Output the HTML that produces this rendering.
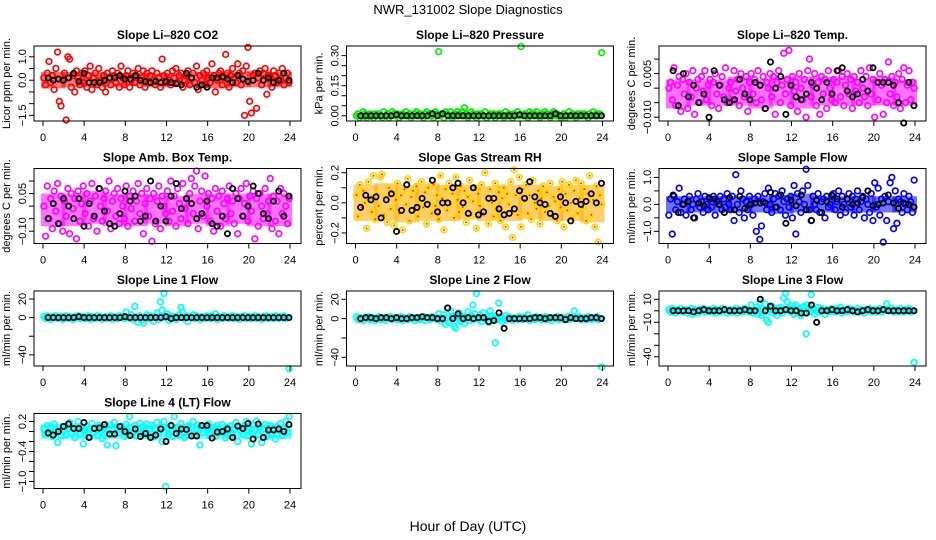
<!DOCTYPE html>
<html><head><meta charset="utf-8"><style>
html,body{margin:0;padding:0;background:#fff}
svg{display:block;font-family:"Liberation Sans",sans-serif}
</style></head><body>
<svg id="chart" width="936" height="540" viewBox="0 0 936 540" xmlns="http://www.w3.org/2000/svg">
<text x="468" y="14" text-anchor="middle" font-size="13">NWR_131002  Slope Diagnostics</text>
<text x="468" y="531" text-anchor="middle" font-size="14">Hour of Day (UTC)</text>
</svg>
<script>
const xTicks=[0,4,8,12,16,20,24];

const co2Vals=[0.1,-0.2,0.3,0.8,-0.1,0.2,-0.4,0.5,1.2,-0.9,-1.1,0.0,0.3,-1.7,1.0,0.9,-0.3,0.2,-0.5,0.4,0.1,-0.2,0.3,-0.1,0.4,-0.3,0.2,0.6,-0.4,0.1,0.3,-0.2,0.5,0.0,-0.3,0.2,-0.5,0.3,0.1,-0.2,0.4,0.2,-0.1,0.3,-0.3,0.6,0.1,-0.2,0.2,0.4,-0.3,0.0,0.3,-0.1,0.2,0.5,-0.2,0.1,0.4,-0.3,0.3,-0.1,0.2,0.4,0.0,-0.2,0.3,0.1,-0.3,0.9,0.2,-0.1,0.3,0.0,-0.2,0.4,0.1,0.5,-0.1,0.2,0.3,-0.3,0.0,0.2,0.4,-0.2,0.1,0.3,-0.1,0.6,-0.4,0.2,0.0,0.3,-0.2,0.4,0.1,-0.1,0.7,0.2,-0.5,0.0,0.3,0.4,-0.2,0.1,1.1,0.3,-0.3,0.2,0.5,0.1,-0.1,0.7,0.3,-0.2,0.4,-1.5,0.6,1.4,-0.9,-1.4,0.2,0.3,-1.2,0.1,0.4,-0.2,0.3,0.5,-0.6,0.2,0.1,-0.3,0.4,0.2,-0.1,0.3,0.0,0.5,-0.2,0.1,0.3,-0.1];
const co2Means=[0.1,0.0,0.05,0.0,0.1,0.3,-0.05,0.3,-0.1,-0.1,-0.1,0.0,0.1,0.1,0.2,0.05,0.05,0.2,0.0,-0.05,-0.1,-0.05,-0.1,-0.05,-0.1,-0.15,-0.2,0.3,0.1,-0.3,-0.2,-0.3,0.1,0.1,0.15,0.05,-0.1,0.2,0.05,-0.05,0.0,0.3,0.0,0.1,-0.1,0.0,0.3,0.0];
const co2BandLo=[-0.35,-0.3,-0.3,-0.3,-0.25,-0.3,-0.25,-0.3,-0.35,-0.3,-0.3,-0.3];
const co2BandHi=[0.35,0.35,0.35,0.3,0.3,0.3,0.3,0.35,0.35,0.35,0.4,0.35];
const co2Ticks=[-1.5,-1.0,-0.5,0.0,0.5,1.0];
const co2Labels=["-1.5","","","0.0","","1.0"];

const presVals=[0.00,0.01,-0.01,0.00,0.02,0.01,-0.01,0.00,0.01,0.00,-0.01,0.01,0.00,0.01,0.00,-0.01,0.02,0.00,0.01,-0.01,0.00,0.02,0.01,0.00,0.01,-0.01,0.00,0.01,0.00,0.02,0.00,0.01,-0.01,0.00,0.01,0.02,0.00,0.01,0.00,-0.01,0.01,0.02,0.00,0.01,0.00,-0.01,0.02,0.01,0.32,0.00,0.01,-0.01,0.02,0.01,0.00,0.02,-0.01,0.01,0.00,0.02,0.01,0.00,0.02,0.04,0.01,-0.01,0.00,0.02,0.01,0.00,-0.01,0.01,0.00,0.01,0.00,0.02,-0.01,0.00,0.01,0.00,0.01,-0.01,0.00,0.01,0.01,0.00,-0.01,0.02,0.00,0.01,0.00,-0.01,0.01,0.00,0.02,0.00,0.345,0.00,0.01,0.00,-0.01,0.02,0.01,0.00,0.01,0.02,0.00,-0.01,0.01,0.00,0.02,0.01,0.00,-0.01,0.01,0.02,0.00,0.01,0.00,-0.01,0.00,0.01,-0.01,0.00,0.02,0.00,0.01,0.00,-0.01,0.01,0.00,0.01,0.00,0.01,0.00,-0.01,0.01,0.00,0.02,0.00,0.01,0.00,0.01,0.315];
const presMeans=[0,0,0,0,0,0,0,0.005,0,0,0,0,0,0,0.01,0,0.01,0,0,0,0,0,0,0,0,0,0,0,0,0,0,0.005,0,0,0,0,0,0,0.01,0,0,0,0,0,0,0,0,0];
const presBandLo=[-0.008,-0.008,-0.008,-0.008,-0.008,-0.008,-0.008,-0.008,-0.008,-0.008,-0.008,-0.008];
const presBandHi=[0.012,0.012,0.012,0.012,0.015,0.012,0.012,0.012,0.012,0.012,0.012,0.012];
const presTicks=[0,0.05,0.10,0.15,0.20,0.25,0.30];
const presLabels=["0.00","","","0.15","","","0.30"];

const ltVals=[0.0,0.002,-0.004,0.007,-0.006,0.001,0.004,-0.008,0.003,-0.002,0.005,-0.007,0.002,-0.003,0.006,-0.009,0.0,0.003,-0.005,0.004,-0.001,0.006,-0.004,0.001,0.003,-0.006,0.002,0.005,-0.002,-0.007,0.001,0.004,-0.003,0.007,-0.005,0.0,0.002,-0.004,0.006,-0.001,0.003,-0.006,0.005,0.0,-0.003,0.004,-0.008,0.002,0.005,-0.002,0.003,-0.005,0.006,0.001,-0.004,0.004,-0.007,0.002,0.0,0.005,-0.003,0.004,-0.009,0.002,0.006,-0.005,0.001,0.012,-0.002,0.003,0.013,-0.006,0.004,-0.001,0.002,-0.008,0.005,0.0,-0.004,0.003,-0.01,0.006,0.010,-0.003,0.001,0.005,-0.006,0.002,-0.009,0.004,-0.002,0.003,-0.007,0.006,0.0,-0.004,0.003,-0.005,0.002,0.006,-0.003,0.004,-0.006,0.001,0.005,-0.002,0.003,-0.007,0.004,-0.001,0.002,-0.005,0.006,0.0,-0.003,0.004,-0.006,0.007,-0.002,0.003,-0.010,0.002,-0.004,0.005,0.001,-0.009,0.003,-0.005,0.009,-0.002,0.004,-0.006,0.002,-0.003,0.005,-0.007,0.003,0.007,-0.005,0.001,0.006,-0.004,0.002,0.0];
const ltMeans=[0.006,-0.006,0.005,-0.003,0.001,-0.005,-0.002,-0.01,0.006,0.001,-0.004,-0.005,-0.004,0.003,-0.002,-0.004,0.002,0.001,-0.007,0.009,0.0,0.004,-0.009,0.001,-0.003,-0.004,-0.002,0.002,0.0,-0.004,0.002,-0.002,0.006,0.007,-0.001,-0.003,-0.002,0.003,-0.001,0.007,0.002,0.002,0.002,0.001,-0.005,-0.012,0.002,-0.006];
const ltBandLo=[-0.007,-0.006,-0.006,-0.006,-0.007,-0.006,-0.007,-0.006,-0.006,-0.006,-0.006,-0.006];
const ltBandHi=[0.003,0.003,0.003,0.004,0.003,0.004,0.004,0.004,0.004,0.003,0.004,0.003];
const ltTicks=[-0.010,-0.005,0,0.005,0.010];
const ltLabels=["-0.010","","","0.005",""];

const ambVals=[0.0,-0.12,0.08,-0.05,0.03,-0.09,0.06,-0.02,0.09,-0.07,0.04,-0.10,0.02,-0.04,0.07,-0.11,0.05,-0.01,0.03,-0.13,0.06,-0.06,0.01,0.08,-0.03,0.05,-0.08,0.02,0.09,-0.05,0.04,-0.10,0.07,0.0,-0.06,0.03,0.06,-0.02,0.1,-0.09,0.02,0.05,-0.04,0.07,-0.07,0.03,0.0,-0.05,0.08,-0.08,0.04,-0.01,0.06,-0.06,0.02,0.09,-0.03,0.05,-0.11,0.01,0.07,-0.04,0.03,-0.14,0.05,-0.07,0.02,0.08,-0.09,0.04,0.0,-0.03,0.06,-0.06,0.1,-0.02,0.04,-0.08,0.07,0.01,-0.05,0.09,-0.01,0.03,-0.07,0.05,0.11,-0.03,0.08,0.14,-0.09,0.02,0.06,-0.04,0.12,0.0,0.05,-0.06,0.03,-0.10,0.07,-0.02,0.04,-0.08,0.06,0.01,-0.05,0.03,0.08,-0.03,0.02,-0.07,0.05,-0.11,0.03,0.07,-0.04,0.01,0.09,-0.06,0.04,-0.02,0.06,-0.13,0.03,-0.08,0.05,0.0,-0.05,0.07,-0.03,0.02,0.11,-0.09,0.04,-0.06,0.02,-0.11,0.07,-0.03,0.05,0.0,-0.07,0.03];
const ambMeans=[-0.05,0.01,-0.07,0.03,0.0,-0.05,0.03,-0.08,0.01,-0.04,0.07,-0.02,-0.07,-0.08,-0.03,0.06,0.02,0.04,-0.06,-0.04,0.10,-0.06,0.0,-0.06,0.04,0.09,-0.01,0.03,0.01,-0.05,-0.03,0.02,-0.07,-0.08,-0.04,-0.11,0.07,0.03,-0.04,0.0,0.08,0.05,-0.03,-0.05,0.02,0.06,-0.04,0.04];
const ambBandLo=[-0.08,-0.08,-0.07,-0.08,-0.08,-0.07,-0.08,-0.07,-0.08,-0.07,-0.08,-0.08];
const ambBandHi=[0.05,0.05,0.06,0.05,0.05,0.05,0.04,0.05,0.05,0.05,0.05,0.05];
const ambTicks=[-0.10,-0.05,0,0.05,0.10];
const ambLabels=["-0.10","","","0.05",""];

const rhVals=[0.05,-0.09,0.12,-0.03,0.08,0.0,-0.17,0.14,0.03,-0.06,0.18,-0.11,0.06,-0.02,0.17,0.19,-0.08,0.04,-0.13,0.10,-0.04,0.07,-0.15,0.02,0.13,-0.07,0.05,-0.18,0.09,-0.01,0.16,-0.12,0.04,0.08,-0.05,0.11,-0.09,0.02,0.14,-0.03,0.07,-0.14,0.10,0.0,-0.07,0.12,-0.02,0.05,-0.11,0.18,0.03,-0.18,0.09,-0.05,0.13,-0.01,0.06,-0.10,0.17,0.02,-0.06,0.11,-0.03,0.08,-0.13,0.04,0.15,-0.08,0.01,0.10,-0.17,0.06,-0.02,0.12,-0.07,0.20,0.04,-0.14,0.09,0.0,-0.09,0.13,-0.04,0.07,-0.12,0.03,0.10,-0.16,0.06,-0.01,0.14,-0.23,0.22,0.05,-0.08,0.17,-0.16,0.09,0.02,0.12,-0.07,0.05,-0.11,0.15,0.0,-0.04,0.08,-0.14,0.03,0.11,-0.06,0.07,-0.02,0.13,-0.09,0.04,0.01,-0.12,0.09,-0.03,0.14,-0.16,0.06,-0.05,0.12,0.0,-0.10,0.08,0.15,-0.07,0.03,0.13,-0.03,0.09,-0.12,0.06,0.18,-0.08,0.02,-0.16,0.11,-0.26,0.05,-0.01];
const rhMeans=[-0.03,0.05,0.02,0.04,-0.10,0.02,0.06,-0.19,-0.05,0.12,-0.05,-0.03,0.03,-0.01,0.15,-0.06,0.0,0.0,0.10,0.13,0.0,-0.07,0.10,-0.08,-0.06,0.03,0.03,-0.04,-0.08,-0.07,-0.04,0.08,0.03,0.14,0.04,0.0,-0.01,-0.07,-0.09,0.04,0.0,-0.12,0.01,-0.01,0.01,0.06,0.0,0.13];
const rhBandLo=[-0.12,-0.12,-0.13,-0.12,-0.12,-0.11,-0.12,-0.12,-0.11,-0.12,-0.12,-0.13];
const rhBandHi=[0.12,0.13,0.12,0.13,0.12,0.12,0.11,0.12,0.12,0.11,0.12,0.12];
const rhTicks=[-0.2,-0.1,0,0.1,0.2];
const rhLabels=["-0.2","","0.0","","0.2"];

const sfVals=[-0.4,0.2,-1.1,0.3,-0.2,0.1,0.6,-0.3,0.0,0.2,-0.4,0.1,0.3,-0.2,0.0,-0.5,0.2,0.4,-0.1,0.1,-0.3,0.3,0.0,-0.2,0.2,-0.1,0.3,-0.4,0.1,0.0,0.3,-0.2,0.2,-0.1,0.4,0.0,-0.2,0.3,-0.6,1.1,0.0,-0.3,0.5,0.2,-0.5,0.1,-0.2,0.3,0.0,-0.4,0.2,-1.0,0.3,-1.3,-0.8,0.1,0.4,-0.2,0.6,0.0,-0.3,0.2,0.4,-0.1,0.3,-0.2,0.5,0.1,-0.4,0.2,-0.1,0.3,-0.5,0.7,-1.1,0.4,0.1,-0.3,0.5,0.0,1.3,0.7,-0.2,-0.6,0.3,0.0,-0.2,0.4,-0.3,0.1,0.2,-0.5,0.3,-0.1,0.0,0.3,0.4,-0.2,0.1,0.5,-0.4,0.3,0.0,-0.3,0.2,0.4,-0.1,0.3,-0.4,0.2,0.5,-0.2,0.1,0.3,-0.5,0.2,0.0,-0.3,0.4,-0.6,0.8,-0.1,0.6,-0.4,0.2,-1.4,0.3,-0.6,0.1,0.8,1.0,-0.9,0.5,-0.7,0.2,0.1,-0.3,0.4,0.0,-0.2,0.3,0.1,-0.3,0.9];
const sfMeans=[0.35,-0.3,0.0,0.1,-0.5,0.05,-0.05,0.25,0.2,0.0,-0.3,0.25,-0.2,0.3,-0.15,0.0,0.05,0.05,0.05,0.45,-0.1,0.35,-0.7,0.15,-0.05,0.35,-0.2,-0.6,0.15,-0.3,0.1,0.35,0.2,-0.1,0.2,0.0,0.05,0.25,0.5,-0.05,0.0,0.05,0.35,0.05,-0.15,0.05,0.0,-0.1];
const sfBandLo=[-0.3,-0.3,-0.3,-0.3,-0.3,-0.35,-0.3,-0.3,-0.3,-0.3,-0.3,-0.3];
const sfBandHi=[0.3,0.3,0.3,0.3,0.3,0.35,0.4,0.3,0.3,0.3,0.3,0.3];
const sfTicks=[-1.0,-0.5,0,0.5,1.0];
const sfLabels=["-1.0","","0.0","","1.0"];

const l1Vals=[1,-1,2,0,-2,1,0,2,-1,0,1,-2,0,2,-1,1,0,-2,1,0,2,-1,0,1,-1,0,2,-2,1,0,-1,2,0,1,-2,0,1,-1,0,2,-2,1,0,-1,2,0,1,-1,6,0,-1,3,-2,12,1,-5,2,-3,-6,0,3,-1,2,0,-4,1,5,-2,17,8,26,0,4,-3,2,0,1,-2,0,3,11,6,-1,2,-4,1,0,3,-1,2,0,-2,1,0,-1,2,0,-1,2,0,4,-2,1,0,-1,2,0,1,-1,0,2,-1,1,0,-2,1,0,2,-1,0,1,-1,0,2,-1,1,0,-2,1,0,2,-1,0,1,-1,2,0,-1,1,0,2,-1,0,-55];
const l1Means=[0,0,0,0,0,0,1,0,0,0,0,0,0,0,0,1,0,0,0,0,0,0,0,1,-1,0,0,0,0,0,0,0,0,0,0,0,0,0,0,0,0,0,0,0,0,0,0,0];
const l1BandLo=[-2,-2,-2,-2,-3,-3,-3,-2,-2,-2,-2,-2];
const l1BandHi=[2,2,2,2,4,5,4,2,2,2,2,2];
const l1Ticks=[-40,-20,0,20];
const l1Labels=["-40","","0","20"];

const l2Vals=[2,-1,1,0,-2,1,0,2,-1,0,1,-2,0,2,-1,1,0,-2,1,0,2,-1,0,1,-1,0,2,-2,1,0,-1,2,0,1,-2,0,1,-1,0,2,-2,1,0,-1,2,0,1,-1,5,-2,0,4,-6,11,-4,8,2,-8,-10,3,6,-3,2,-5,1,7,-2,3,14,5,26,0,4,-3,6,0,2,-4,8,3,0,-25,-1,16,2,-3,0,3,-1,2,0,-2,1,0,-1,2,0,-1,2,0,4,-2,1,0,-1,2,0,1,-1,0,2,-1,1,0,-2,1,0,2,-1,0,1,-1,0,2,-1,1,0,8,1,0,2,-1,0,1,-1,2,0,-1,1,0,2,-1,0,-50];
const l2Means=[0,1,1,0,1,1,0,1,0,0,1,1,2,1,1,0,0,11,0,5,0,1,0,1,1,-3,-2,6,-10,0,0,0,0,0,1,1,0,1,1,1,-1,1,0,0,0,1,1,0];
const l2BandLo=[-2,-2,-2,-2,-5,-5,-4,-2,-2,-2,-2,-2];
const l2BandHi=[2,2,2,2,5,5,5,2,2,2,2,2];
const l2Ticks=[-40,-20,0,20];
const l2Labels=["-40","","0","20"];

const l3Vals=[1,-1,2,0,-2,1,0,2,-1,0,1,-2,0,2,-3,1,0,-2,1,0,2,-1,0,1,-1,0,2,-2,1,0,-1,2,0,1,-2,0,1,-1,0,2,-2,1,0,-1,2,0,1,-1,5,-2,0,3,-3,7,-4,2,6,-8,-10,3,4,-2,2,-4,1,3,-2,11,15,8,2,0,4,-3,5,0,2,-4,3,4,-20,5,-1,14,2,-3,0,3,-1,2,0,-3,1,0,-1,2,0,-1,2,0,3,-2,1,0,-1,2,0,1,-1,0,2,-1,1,0,-2,1,0,2,-1,0,1,-1,0,2,-1,1,0,6,1,0,2,-1,0,1,-1,2,0,-1,1,0,2,-1,0,-45];
const l3Means=[0,0,0,0,-1,0,1,0,0,0,1,0,0,0,1,0,0,10,0,4,0,0,1,0,0,-2,-2,5,-10,0,0,1,0,0,1,0,-1,0,1,0,0,1,0,0,0,0,0,0];
const l3BandLo=[-2,-2,-2,-2,-4,-4,-4,-2,-2,-2,-2,-2];
const l3BandHi=[2,2,2,2,4,5,5,2,2,2,2,2];
const l3Ticks=[-40,-30,-20,-10,0,10];
const l3Labels=["-40","","","-10","","10"];

const l4Vals=[0.05,-0.05,0.12,-0.02,0.08,-0.1,0.15,0.0,-0.22,0.06,-0.08,0.1,0.02,-0.06,0.14,0.18,-0.03,0.07,-0.12,0.05,0.2,-0.05,0.09,-0.25,0.03,0.11,-0.1,0.06,0.16,-0.04,0.08,-0.08,0.12,0.0,-0.14,0.05,0.1,-0.27,0.04,0.13,-0.06,0.18,-0.28,0.07,-0.02,0.11,0.04,-0.1,0.14,-0.06,0.3,0.08,-0.03,0.12,-0.09,0.05,0.17,-0.05,0.1,0.0,0.15,-0.08,0.06,0.12,-0.11,0.04,0.18,-0.04,0.09,-0.2,0.2,-1.1,0.07,-0.05,0.13,-0.1,0.3,0.04,0.09,-0.07,0.16,0.0,-0.12,0.06,0.11,-0.04,0.08,0.2,-0.08,0.05,0.13,-0.27,0.07,-0.02,0.1,0.05,0.15,-0.06,0.09,0.03,-0.1,0.12,0.06,-0.03,0.14,0.0,-0.13,0.08,0.04,0.11,-0.07,0.06,0.18,-0.2,0.09,0.01,-0.05,0.12,0.2,-0.08,0.07,-0.25,0.13,0.03,0.21,-0.06,0.1,-0.22,0.05,0.14,-0.1,0.08,0.12,-0.04,0.06,-0.15,0.1,0.03,0.16,-0.08,0.05,0.2,-0.02,0.3];
const l4Means=[-0.03,-0.07,0.0,0.1,0.15,0.06,0.06,0.18,-0.12,0.06,0.07,0.14,-0.05,-0.05,0.1,0.0,-0.08,0.05,-0.1,-0.04,-0.12,-0.07,0.05,-0.2,0.12,-0.04,0.05,0.04,-0.09,-0.09,0.12,0.12,-0.13,-0.01,0.0,0.05,-0.12,0.11,0.06,0.16,-0.15,0.15,-0.12,0.03,0.03,0.05,0.0,0.14];
const l4BandLo=[-0.15,-0.15,-0.16,-0.15,-0.15,-0.15,-0.16,-0.15,-0.15,-0.15,-0.16,-0.15];
const l4BandHi=[0.15,0.16,0.15,0.15,0.16,0.15,0.15,0.15,0.16,0.15,0.16,0.15];
const l4Ticks=[-1.0,-0.8,-0.6,-0.4,-0.2,0,0.2];
const l4Labels=["-1.0","","","-0.4","","","0.2"];

const NS="http://www.w3.org/2000/svg";
const svg=document.getElementById('chart');
const colLeft=[34,346.5,659], rowTop=[46,168.5,291,413.5], BW=267, BH=75;
function mk(tag,attrs,parent){const e=document.createElementNS(NS,tag);for(const k in attrs)e.setAttribute(k,attrs[k]);parent.appendChild(e);return e;}

function panel(key,col,row,title,ylab,ymin,ymax,ticks,labels,vals,means,bandLo,bandHi,color,bandColor){
  const L=colLeft[col],T=rowTop[row];
  const g=mk('g',{},svg);
  
  
  const xs=h=>L+9+h*(247/24);
  const ys=v=>T+BH-(v-ymin)/(ymax-ymin)*BH;
  const t=mk('text',{x:L+BW/2,y:T-7,'text-anchor':'middle','font-size':'12','font-weight':'bold'},g);
  t.textContent=title;
  
  
  const yl=mk('text',{transform:`translate(${L-24},${T+BH/2}) rotate(-90)`,'text-anchor':'middle','font-size':'11'},g);
  yl.textContent=ylab;
  
  
  const bg=mk('g',{},g);
  
  
  const nb=bandLo.length, step=24/nb;
  bandLo.forEach((lo,i)=>{
    const h0=i*step, h1=(i+1)*step;
    const r=mk('rect',{x:xs(h0)-2,y:ys(bandHi[i]),width:xs(h1)-xs(h0)+4,height:Math.max(2,ys(lo)-ys(bandHi[i])),fill:bandColor,'fill-opacity':'0.55'},bg);
    
    
  });
  const pts=mk('g',{fill:'none','stroke-width':'1.7'},g);
  
  
  vals.forEach((v,i)=>{
    const h=(i+0.5)*24/vals.length;
    const c=mk('circle',{cx:xs(h),cy:ys(v),r:2.8,stroke:color},pts);
    
    
    if(key==='rh'){const d=mk('circle',{cx:xs(h),cy:ys(v),r:1,fill:'#ff3300',stroke:'none'},pts);
      
      }
  });
  const mg=mk('g',{fill:'none','stroke-width':'1.8',stroke:'#000'},g);
  
  
  means.forEach((v,i)=>{
    const h=(i+1)*23.9/means.length;
    const c=mk('circle',{cx:xs(h),cy:ys(v),r:2.6},mg);
    
    
  });
  const box=mk('rect',{x:L,y:T,width:BW,height:BH,fill:'none',stroke:'#000','stroke-width':'1'},g);
  
  
  const xa=mk('g',{stroke:'#000','stroke-width':'1'},g);
  
  
  mk('line',{x1:xs(0),x2:xs(24),y1:T+BH,y2:T+BH},xa);
  xTicks.forEach(h=>{
    mk('line',{x1:xs(h),x2:xs(h),y1:T+BH,y2:T+BH+5},xa);
    const tx=mk('text',{x:xs(h),y:T+BH+20,'text-anchor':'middle','font-size':'11',stroke:'none',fill:'#000'},xa);
    tx.textContent=h;
    
    
  });
  const ya=mk('g',{stroke:'#000','stroke-width':'1'},g);
  
  
  mk('line',{x1:L,x2:L,y1:ys(ticks[0]),y2:ys(ticks[ticks.length-1])},ya);
  ticks.forEach((v,i)=>{
    mk('line',{x1:L-5,x2:L,y1:ys(v),y2:ys(v)},ya);
    if(labels[i]){
      const tx=mk('text',{transform:`translate(${L-8},${ys(v)}) rotate(-90)`,'text-anchor':'middle','font-size':'11',stroke:'none',fill:'#000'},ya);
      tx.textContent=labels[i].replace('-','\u2212');
      
      
    }
  });
}
panel('co2',0,0,'Slope Li\u2013820 CO2','Licor ppm per min.',-1.74,1.46,co2Ticks,co2Labels,co2Vals,co2Means,co2BandLo,co2BandHi,'#ff0000','#ff0000');
panel('pressure',1,0,'Slope Li\u2013820 Pressure','kPa per min.',-0.026,0.348,presTicks,presLabels,presVals,presMeans,presBandLo,presBandHi,'#00ee00','#00dd00');
panel('li-temp',2,0,'Slope Li\u2013820 Temp.','degrees C per min.',-0.0113,0.0145,ltTicks,ltLabels,ltVals,ltMeans,ltBandLo,ltBandHi,'#ff00ff','#ff00ff');
panel('amb-temp',0,1,'Slope Amb. Box Temp.','degrees C per min.',-0.149,0.15,ambTicks,ambLabels,ambVals,ambMeans,ambBandLo,ambBandHi,'#ff00ff','#ff00ff');
panel('rh',1,1,'Slope Gas Stream RH','percent per min.',-0.27,0.228,rhTicks,rhLabels,rhVals,rhMeans,rhBandLo,rhBandHi,'#ffd700','#ffa500');
panel('sample-flow',2,1,'Slope Sample Flow','ml/min per min.',-1.45,1.33,sfTicks,sfLabels,sfVals,sfMeans,sfBandLo,sfBandHi,'#0000ff','#0000ff');
panel('line1',0,2,'Slope Line 1 Flow','ml/min per min.',-52,28.6,l1Ticks,l1Labels,l1Vals,l1Means,l1BandLo,l1BandHi,'#00ffff','#00ffff');
panel('line2',1,2,'Slope Line 2 Flow','ml/min per min.',-49,28.6,l2Ticks,l2Labels,l2Vals,l2Means,l2BandLo,l2BandHi,'#00ffff','#00ffff');
panel('line3',2,2,'Slope Line 3 Flow','ml/min per min.',-48,17.2,l3Ticks,l3Labels,l3Vals,l3Means,l3BandLo,l3BandHi,'#00ffff','#00ffff');
panel('line4',0,3,'Slope Line 4 (LT) Flow','ml/min per min.',-1.14,0.36,l4Ticks,l4Labels,l4Vals,l4Means,l4BandLo,l4BandHi,'#00ffff','#00ffff');
</script>
</body></html>
